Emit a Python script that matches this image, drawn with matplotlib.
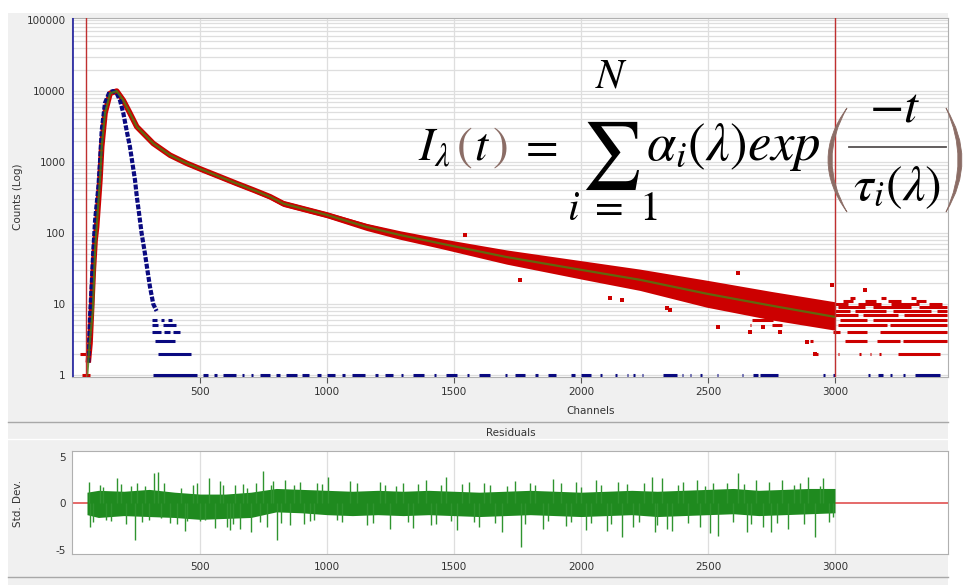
import numpy as np
import matplotlib.pyplot as plt
from matplotlib.patches import Rectangle, PathPatch
from matplotlib.lines import Line2D
from matplotlib.path import Path

plt.rcParams['mathtext.fontset'] = 'stix'
plt.rcParams['font.family'] = ['DejaVu Sans']
plt.rcParams['axes.unicode_minus'] = False

W, H = 965, 585

# decay data (red): channel, band centre counts, half width of the band in decades
dec_ch = [60, 67, 74, 80, 87, 93, 106, 113, 126, 146, 172, 198, 224, 251, 316, 382, 448, 513, 579,
          644, 710, 776, 828, 1000, 1156, 1287, 1450, 1707, 2009, 2232, 2495, 2750, 3000]
dec_mid = [1.5, 2.8, 10, 30, 80, 122, 560, 1650, 4900, 9300, 10000, 7400, 4900, 3150, 1830, 1250, 960, 770, 620,
           500, 405, 325, 260, 180, 122, 94, 71, 46, 30, 22, 14, 9.5, 6.8]
dec_spread = [0.03, 0.03, 0.03, 0.03, 0.03, 0.03, 0.02, 0.02, 0.02, 0.02, 0.02, 0.02, 0.02, 0.02, 0.02, 0.02, 0.03, 0.03, 0.03,
              0.03, 0.03, 0.035, 0.04, 0.04, 0.05, 0.06, 0.07, 0.1, 0.13, 0.15, 0.19, 0.2, 0.2]

# red points that sit on single count levels (low counts show up as rows)
red_lvl = [1, 2, 3,
           6, 6, 6, 6, 6, 5, 5, 5, 5, 5, 4, 4, 4, 3, 3, 3, 3, 2, 2, 2, 2, 2, 2,
           7, 7, 7, 8, 8, 8, 8, 9, 9, 9, 10, 10, 10, 10, 11, 11, 11, 11, 12, 12, 12]
red_from = [34, 27, 60,
            2672, 2803, 2941, 3020, 3151, 2665, 2751, 2948, 3013, 3216, 2993, 3046, 3177, 2902, 3039, 3164, 3269,
            2926, 3011, 3096, 3136, 3175, 3249,
            3000, 3110, 3270, 3000, 3080, 3230, 3400, 3010, 3150, 3330, 3000, 3090, 3220, 3370,
            3030, 3120, 3210, 3320, 3060, 3180, 3300]
red_to = [67, 67, 70,
          2757, 2915, 2993, 3125, 3440, 2671, 2790, 2980, 3203, 3440, 3020, 3125, 3440, 2915, 3125, 3256, 3440,
          2932, 3017, 3102, 3142, 3181, 3413,
          3090, 3250, 3440, 3060, 3200, 3380, 3440, 3120, 3300, 3440, 3050, 3180, 3330, 3420,
          3070, 3160, 3260, 3360, 3080, 3200, 3320]

# stray red points
red_out_ch = [1543, 1760, 2114, 2160, 2337, 2350, 2541, 2620, 2665, 2718, 2783, 2888, 2921, 2987, 3118]
red_out_counts = [94, 22, 12, 11.4, 8.8, 8.2, 4.8, 27, 4.1, 4.8, 4.1, 2.95, 2.0, 18.5, 15.7]

# fitted curve (green)
fit_ch = [56, 66, 78, 87, 93, 106, 113, 126, 146, 172, 198, 224, 251, 316, 382, 448, 513, 579,
          644, 710, 776, 828, 1000, 1156, 1287, 1450, 1707, 2009, 2232, 2495, 2750, 3000]
fit_counts = [1, 3, 8, 60, 120, 560, 1650, 4900, 9300, 10000, 7400, 4900, 3150, 1830, 1250, 960, 770, 620,
              500, 405, 325, 260, 180, 122, 94, 71, 46, 30, 22, 14, 9.5, 6.6]

# instrument response (blue)
irf_ch = [60, 67, 74, 80, 87, 100, 106, 113, 126, 143, 158, 172, 185, 198, 211, 224, 244, 251, 260, 270,
          283, 293, 303, 316, 329]
irf_counts = [1.5, 6.6, 20, 57, 152, 450, 960, 2800, 6800, 9600, 10000, 9300, 7400, 4900, 2800, 1650, 560, 330, 190, 100,
              52, 30, 17.5, 10, 8]

irf_lvl = [6, 6, 6, 5, 5, 4, 4, 4, 3, 2]
irf_from = [311, 345, 375, 311, 355, 311, 360, 395, 323, 335]
irf_to = [330, 360, 390, 335, 406, 345, 380, 421, 402, 465]

# blue single counts along the bottom
irf_one_from = [315, 512, 555, 590, 665, 700, 735, 800, 840, 900, 960, 1000, 1060, 1100, 1190, 1230, 1290, 1340,
                1420, 1470, 1550, 1600, 1700, 1740, 1820, 1870, 1960, 2000, 2075, 2134, 2180, 2206, 2239, 2324,
                2396, 2429, 2469, 2534, 2633, 2678, 2705, 2954, 2993, 3131, 3170, 3217, 3268, 3315]
irf_one_to = [488, 531, 565, 640, 675, 710, 775, 815, 880, 930, 975, 1030, 1070, 1150, 1200, 1260, 1300, 1380,
              1430, 1510, 1560, 1640, 1710, 1780, 1830, 1900, 1975, 2040, 2081, 2140, 2186, 2212, 2245, 2377,
              2402, 2435, 2475, 2540, 2639, 2698, 2777, 2960, 2999, 3137, 3190, 3223, 3274, 3413]

# residuals: dense core band, the longer spikes and the medium spikes
res_ch = [55, 100, 200, 300, 400, 500, 600, 700, 800, 900, 1000, 1100, 1200, 1300, 1400, 1500, 1600, 1700,
          1800, 1900, 2000, 2100, 2200, 2300, 2400, 2500, 2600, 2700, 2800, 2900, 3000]
res_hi = [1.2, 1.4, 1.3, 1.5, 1.2, 1.0, 1.0, 1.2, 1.6, 1.5, 1.4, 1.3, 1.4, 1.3, 1.4, 1.3, 1.2, 1.3,
          1.4, 1.3, 1.2, 1.3, 1.4, 1.3, 1.4, 1.5, 1.6, 1.4, 1.5, 1.6, 1.6]
res_lo = [-1.2, -1.5, -1.3, -1.4, -1.5, -1.7, -1.6, -1.5, -0.9, -1.0, -1.2, -1.3, -1.2, -1.3, -1.2, -1.3, -1.4, -1.3,
          -1.2, -1.3, -1.4, -1.3, -1.2, -1.4, -1.3, -1.2, -1.1, -1.3, -1.2, -1.1, -1.0]
spike_ch = [64, 66, 106, 130, 172, 209, 244, 250, 284, 319, 335, 345, 408, 425, 441, 473, 500, 536, 560, 577,
            606, 618, 638, 657, 684, 700, 749, 762, 789, 802, 835, 855, 894, 933, 960, 1005, 1038, 1090, 1156, 1209,
            1248, 1300, 1340, 1390, 1430, 1470, 1510, 1560, 1600, 1640, 1690, 1740, 1765, 1800, 1850, 1890, 1940,
            1980, 2020, 2060, 2101, 2147, 2160, 2206, 2278, 2291, 2317, 2337, 2357, 2403, 2455, 2468, 2507, 2540,
            2573, 2619, 2652, 2691, 2717, 2750, 2790, 2816, 2862, 2895, 2921, 2954, 2993]
spike_val = [2.3, -2.5, 2.0, -1.8, 2.7, -2.2, -3.9, 2.2, 1.9, 3.2, 3.4, -1.6, -2.2, 1.7, -2.9, 2.0, -1.9, 2.7, -2.6, 2.4,
             -2.5, -2.8, 2.0, -2.7, 1.7, -3.0, 3.5, -2.5, 2.4, -3.9, 2.5, -2.3, 2.3, -1.9, 2.2, 2.8, -1.8, 2.4, -2.3, 2.3,
             -2.7, 2.2, -2.6, 2.5, -2.2, 2.8, -2.8, 2.3, -2.5, 2.0, -3.0, 2.4, -4.6, 2.2, -2.7, 2.6, -2.4,
             2.3, -2.8, 2.5, -2.9, 2.3, -3.6, -2.5, 2.8, -3.0, 2.7, -2.7, -2.9, 2.3, 2.5, -2.5, -3.2, -3.5,
             2.2, 3.2, -3.0, 2.5, -2.5, -3.0, 2.5, -2.7, 2.2, 2.8, -3.6, 2.7, -1.4]
mid_ch = [80, 120, 150, 190, 230, 270, 300, 360, 380, 450, 490, 520, 590, 630, 670, 720, 735, 780, 820, 870,
          910, 950, 980, 1060, 1120, 1180, 1230, 1270, 1320, 1360, 1410, 1450, 1490, 1530, 1580, 1620, 1660, 1710,
          1780, 1820, 1870, 1920, 1960, 2000, 2040, 2080, 2120, 2180, 2230, 2250, 2300, 2380, 2420, 2490, 2520,
          2600, 2640, 2670, 2740, 2770, 2840, 2880, 2940, 2975]
mid_val = [-2.0, 1.8, -1.9, 2.1, 1.9, -2.0, -1.8, 2.2, -2.1, -1.9, 2.2, -1.8, 2.0, -2.2, 2.1, 2.2, -2.0, 2.0, -2.1, 2.0,
           -2.2, -1.8, 2.1, -2.0, 2.2, -2.1, 2.0, 1.9, -2.0, 2.1, -2.3, 2.0, -1.9, 2.1, -2.0, 2.2, -2.1, 1.9,
           -2.2, 2.0, -1.9, 2.2, -2.0, 1.8, -2.1, 2.0, -2.2, 2.1, -2.0, 2.2, -2.3, 2.0, -2.1, 1.9, 2.2,
           -2.0, 2.1, -2.2, 2.3, -2.1, 2.0, -2.2, 1.9, -2.0]

xticks = [500, 1000, 1500, 2000, 2500, 3000]
yticks = [1, 10, 100, 1000, 10000, 100000]
ytick_labels = ["1", "10", "100", "1000", "10000", "100000"]
res_ticks = [-5, 0, 5]

red = "#cc0000"
navy = "#0a0a80"
green = "#1f8a1f"
brown = "#8b6d66"
grid = "#dedede"


def fx(x):
    return x / W


def fy(y):
    return 1 - y / H


fig = plt.figure(figsize=(W / 100, H / 100), dpi=100, facecolor="white")
fig.add_artist(Rectangle((fx(8), 0), fx(948) - fx(8), fy(13), transform=fig.transFigure,
                         facecolor="#f0f0f0", edgecolor="none", zorder=-10))
for yy, cc in [(422, "#a8a8a8"), (439, "#ffffff"), (577, "#a8a8a8")]:
    fig.add_artist(Line2D([fx(8), fx(948)], [fy(yy), fy(yy)], color=cc, lw=1, transform=fig.transFigure))

# ---- decay panel ----
ax = fig.add_axes([fx(72), fy(377), fx(948) - fx(72), fy(18) - fy(377)])
ax.set_facecolor("white")
ax.set_yscale("log")
ax.set_xlim(-4, 3445)
ax.set_ylim(0.94, 1.07e5)
ax.set_xticks(xticks)
ax.set_yticks(yticks)
ax.set_yticklabels(ytick_labels)
ax.yaxis.set_minor_formatter(plt.NullFormatter())
ax.tick_params(axis="x", direction="out", length=4, color="#555555", labelsize=7.5, labelcolor="#333333", pad=3)
ax.tick_params(axis="y", which="both", length=0, labelsize=7.5, labelcolor="#333333", pad=4.5)
ax.grid(True, axis="x", color=grid, lw=0.9)
ax.grid(True, axis="y", which="both", color=grid, lw=0.9)
ax.set_axisbelow(True)
for s in ax.spines.values():
    s.set_color("#b0b0b0")
    s.set_linewidth(0.8)

dec_ch_a = np.array(dec_ch)
dec_mid_a = np.array(dec_mid)
dec_sp_a = np.array(dec_spread)
ax.fill_between(dec_ch_a, dec_mid_a / 10 ** dec_sp_a, dec_mid_a * 10 ** dec_sp_a, color=red, lw=0, zorder=3)
ax.plot(dec_ch, dec_mid, color=red, lw=4, zorder=3, solid_capstyle="butt")
ax.hlines(red_lvl, red_from, red_to, color=red, lw=2.2, zorder=3)
ax.scatter(red_out_ch, red_out_counts, marker="s", s=5, color=red, lw=0, zorder=3)

ax.plot(irf_ch, irf_counts, color=navy, lw=3, ls=(0, (1.2, 0.4)), zorder=4)
ax.hlines(irf_lvl, irf_from, irf_to, color=navy, lw=2.2, zorder=4)
ax.hlines([1] * len(irf_one_from), irf_one_from, irf_one_to, color=navy, lw=2.2, zorder=4)

ax.plot(fit_ch, fit_counts, color="#4f7a10", lw=1.6, alpha=0.85, zorder=5)

ax.axvline(0, color="#2020a0", lw=1.2, zorder=6)
ax.axvline(50, color="#c03030", lw=1, zorder=6)
ax.axvline(3000, color="#c03030", lw=1, zorder=6)

fig.text(fx(18), fy(197), "Counts (Log)", rotation=90, ha="center", va="center", fontsize=7.5, color="#333333")
fig.text(fx(591), fy(411), "Channels", ha="center", va="center", fontsize=7.5, color="#333333")
fig.text(fx(511), fy(433), "Residuals", ha="center", va="center", fontsize=7.5, color="#333333")

# ---- residual panel ----
ax2 = fig.add_axes([fx(72), fy(554), fx(948) - fx(72), fy(451) - fy(554)])
ax2.set_facecolor("white")
ax2.set_xlim(-4, 3445)
ax2.set_ylim(-5.4, 5.6)
ax2.set_xticks(xticks)
ax2.set_yticks(res_ticks)
ax2.tick_params(axis="x", direction="out", length=0, labelsize=7.5, labelcolor="#333333", pad=6)
ax2.tick_params(axis="y", length=0, labelsize=7.5, labelcolor="#333333", pad=4.5)
ax2.grid(True, axis="x", color=grid, lw=0.9)
ax2.set_axisbelow(True)
for s in ax2.spines.values():
    s.set_color("#b0b0b0")
    s.set_linewidth(0.8)
ax2.axhline(0, color="#e05050", lw=1.2, zorder=2)
ax2.fill_between(res_ch, res_lo, res_hi, color=green, lw=0, zorder=3)
ax2.vlines(spike_ch, 0, spike_val, color="#2f942f", lw=1, zorder=3)
ax2.vlines(mid_ch, 0, mid_val, color="#2f942f", lw=1, zorder=3)
fig.text(fx(18), fy(503), "Std. Dev.", rotation=90, ha="center", va="center", fontsize=7.5, color="#333333")


# ---- equation ----
def eq(x, y, s, size, color="black", ha="left", va="baseline"):
    fig.text(fx(x), fy(y), s, fontsize=size, color=color, ha=ha, va=va, zorder=20)


def paren(x_end, x_out, x_in, y_top, y_bot):
    # crescent shaped bracket, thick in the middle and thin at the ends
    ym = (y_top + y_bot) / 2
    c_out = 2 * x_out - x_end
    c_in = 2 * x_in - x_end
    verts = [(fx(x_end), fy(y_top)), (fx(c_out), fy(ym)), (fx(x_end), fy(y_bot)),
             (fx(c_in), fy(ym)), (fx(x_end), fy(y_top)), (0, 0)]
    codes = [Path.MOVETO, Path.CURVE3, Path.CURVE3, Path.CURVE3, Path.CURVE3, Path.CLOSEPOLY]
    fig.add_artist(PathPatch(Path(verts, codes), transform=fig.transFigure, facecolor=brown,
                             edgecolor=brown, lw=0.6, zorder=20))


eq(418, 160, r"$I_{\lambda}$", 34)
eq(456, 160, r"$($", 34, brown)
eq(474, 160, r"$t$", 34)
eq(492, 160, r"$)$", 34, brown)
eq(519, 160, r"$=$", 34)
eq(611, 156, r"$\sum$", 48, ha="center", va="center")
eq(612, 76, r"$N$", 30, ha="center", va="center")
eq(612, 208, r"$i\ =\ 1$", 30, ha="center", va="center")
eq(646, 160, r"$\alpha_i(\lambda)exp$", 38)
paren(847, 828, 832, 108, 212)
eq(895, 122, r"$-t$", 36, ha="center")
fig.add_artist(Line2D([fx(849), fx(946)], [fy(147), fy(147)], color="#555050", lw=1.3,
                      transform=fig.transFigure, zorder=20))
eq(897, 200, r"$\tau_i(\lambda)$", 36, ha="center")
paren(946, 962, 958, 108, 212)

fig.savefig("out.png", dpi=100, facecolor=fig.get_facecolor())
